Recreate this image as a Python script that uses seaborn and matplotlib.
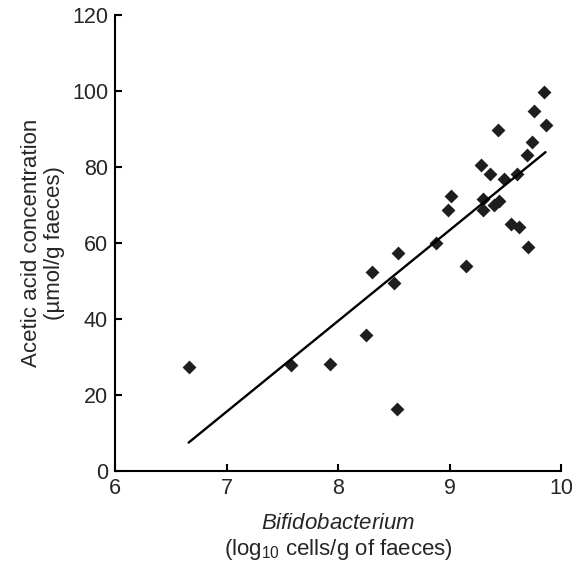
import pandas as pd
import matplotlib.pyplot as plt
import seaborn as sns

# Values
bifido_log10 = [6.66, 7.58, 7.93, 8.25, 8.30, 8.50, 8.54, 8.53, 8.875, 9.15,
                8.99, 9.01, 9.28, 9.30, 9.30, 9.36, 9.40, 9.44, 9.43, 9.49,
                9.55, 9.62, 9.60, 9.69, 9.70, 9.74, 9.76, 9.85, 9.86]
acetic_acid = [27.3, 27.9, 28.1, 35.8, 52.5, 49.5, 57.4, 16.2, 60.1, 53.9,
               68.6, 72.5, 80.6, 71.7, 68.6, 78.2, 70.0, 71.1, 89.8, 76.8,
               65.0, 64.2, 78.3, 83.2, 59.0, 86.7, 94.8, 99.7, 91.0]
x_ticks = [6, 7, 8, 9, 10]
y_ticks = [0, 20, 40, 60, 80, 100, 120]

df = pd.DataFrame({'bifido': bifido_log10, 'acetic': acetic_acid})

sns.set_style('ticks')
plt.rcParams['font.family'] = ['Liberation Sans', 'DejaVu Sans']
plt.rcParams['mathtext.fontset'] = 'custom'
plt.rcParams['mathtext.rm'] = 'Liberation Sans'
plt.rcParams['mathtext.it'] = 'Liberation Sans:italic'

fig = plt.figure(figsize=(5.72, 5.64), dpi=100)
ax = fig.add_axes([0.201, 0.165, 0.78, 0.808])

sns.regplot(data=df, x='bifido', y='acetic', ax=ax, ci=None, truncate=True,
            marker='D', color='#1e1e1e',
            scatter_kws={'s': 50, 'linewidths': 0, 'alpha': 1},
            line_kws={'color': 'black', 'lw': 1.7})

ax.set_xlim(6, 10)
ax.set_ylim(0, 120)
ax.set_xticks(x_ticks)
ax.set_yticks(y_ticks)
ax.tick_params(direction='in', length=5, width=1.5, labelsize=15.5, pad=5, color='black')
for side in ['top', 'right']:
    ax.spines[side].set_visible(False)
for side in ['left', 'bottom']:
    ax.spines[side].set_linewidth(1.5)
    ax.spines[side].set_color('black')

ax.set_xlabel(r'$\it{Bifidobacterium}$' + '\n' + r'(log$_{10}$ cells/g of faeces)',
              fontsize=16, labelpad=10, linespacing=1.2)
ax.set_ylabel('Acetic acid concentration\n(µmol/g faeces)', fontsize=16,
              labelpad=5, linespacing=1.15)

plt.savefig('out.png', dpi=100)
